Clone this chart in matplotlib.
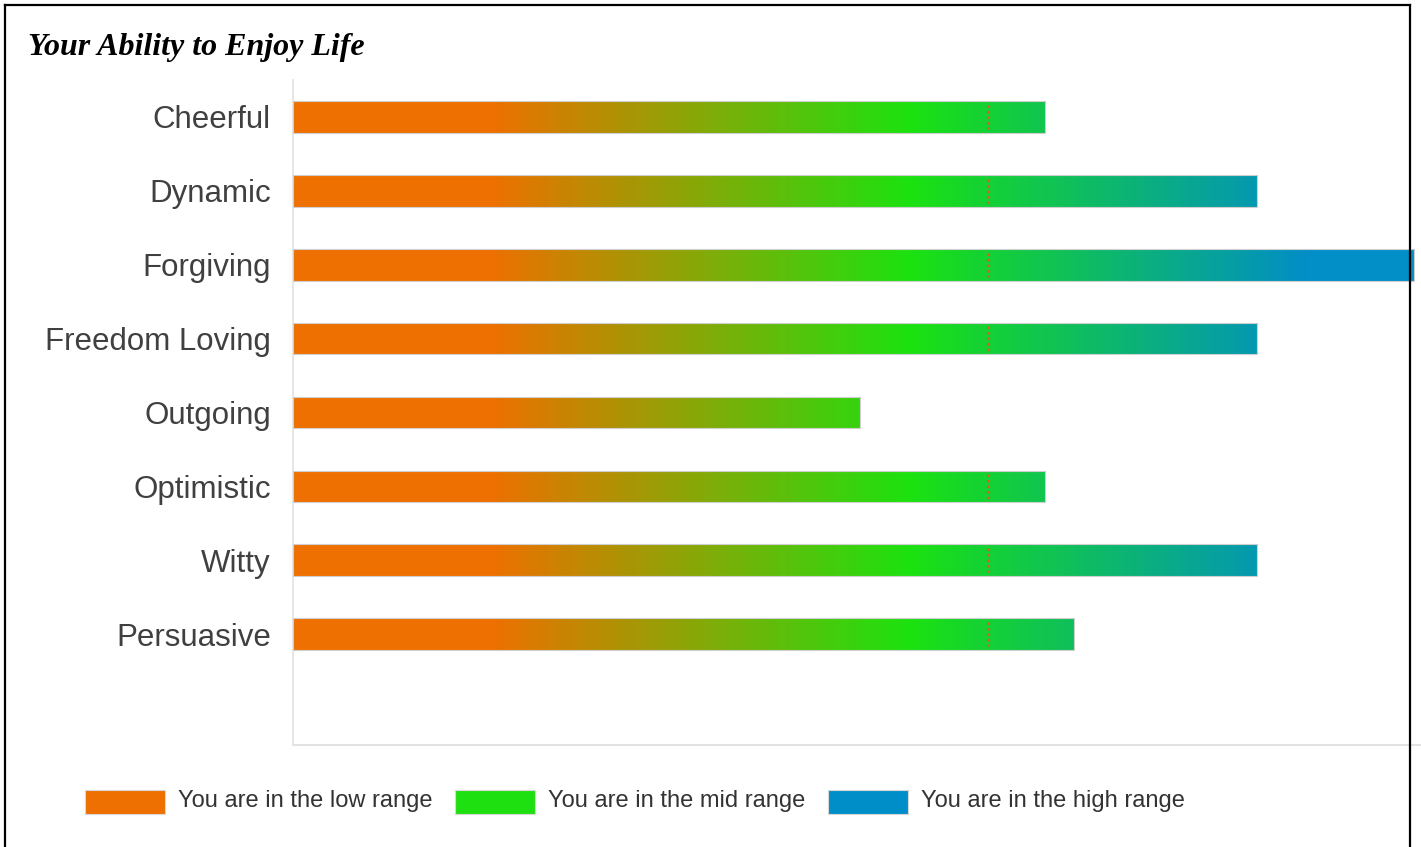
import matplotlib
matplotlib.use("Agg")
import matplotlib.pyplot as plt
import numpy as np
from matplotlib.colors import LinearSegmentedColormap
from matplotlib.patches import Rectangle
from matplotlib.lines import Line2D

# data
traits = ["Cheerful", "Dynamic", "Forgiving", "Freedom Loving",
          "Outgoing", "Optimistic", "Witty", "Persuasive"]
scores = [66.7, 85.5, 99.4, 85.5, 50.3, 66.7, 85.5, 69.2]
marker_value = 61.6
legend_labels = ["You are in the low range", "You are in the mid range",
                 "You are in the high range"]
legend_colors = ["#ee7000", "#1ee010", "#008ec8"]

# gradient used along the value axis
grad_cmap = LinearSegmentedColormap.from_list(
    "range",
    [(0.0, "#ee7000"), (0.175, "#ee7000"), (0.547, "#1ce210"),
     (0.62, "#14d038"), (0.90, "#028ec6"), (1.0, "#028ec6")])

W, H = 1421, 847
fig = plt.figure(figsize=(W / 100, H / 100), dpi=100)
fig.patch.set_facecolor("white")

ax = fig.add_axes([293 / W, 1 - 745 / H, 1 - 293 / W, (745 - 80) / H])

bar_h = 0.43
ypos = np.arange(len(traits))
bars = ax.barh(ypos, scores, height=bar_h, facecolor="none",
               edgecolor="#cfcfcf", linewidth=0.8, zorder=3)

# one gradient image spanning the full axis, clipped to each bar
xs = np.linspace(0, 1, 2000)
grad = grad_cmap(xs)[np.newaxis, :, :]
for i, (bar, val) in enumerate(zip(bars, scores)):
    im = ax.imshow(grad, extent=(0, 100, i + bar_h / 2 + 0.05, i - bar_h / 2 - 0.05),
                   aspect="auto", interpolation="nearest", zorder=2)
    im.set_clip_path(bar)
    if val > marker_value:
        ax.plot([marker_value, marker_value], [i - bar_h / 2 + 0.05, i + bar_h / 2 - 0.05],
                color="#e0600e", linestyle=(0, (0.9, 1.1)), linewidth=2.0, zorder=4)
ax.set_xlim(0, 100)
ax.set_ylim(8.5, -0.5)

ax.set_yticks(ypos)
ax.set_yticklabels(traits, fontsize=22.5, color="#404040", family="Liberation Sans")
ax.tick_params(axis="y", length=0, pad=16)
ax.set_xticks([])
for s in ["top", "right"]:
    ax.spines[s].set_visible(False)
ax.spines["left"].set_color("#e2e2e2")
ax.spines["bottom"].set_color("#e2e2e2")
ax.spines["left"].set_linewidth(1.2)
ax.spines["bottom"].set_linewidth(1.5)

# title
fig.text(28 / W, 1 - 48 / H, "Your Ability to Enjoy Life", fontsize=23,
         family="Liberation Serif", fontweight="bold", fontstyle="italic",
         va="center", ha="left")

# legend
patch_x = [85, 455, 828]
for px, lab, col in zip(patch_x, legend_labels, legend_colors):
    fig.patches.append(Rectangle((px / W, 1 - 814 / H), 80 / W, 24 / H,
                                 transform=fig.transFigure, facecolor=col,
                                 edgecolor="#d8d8d8", linewidth=0.8))
    fig.text((px + 93) / W, 1 - 801 / H, lab, fontsize=17, color="#333333",
             family="Liberation Sans", va="center", ha="left")

# frame around the whole chart
for xy in [([5, 5], [5, H]), ([5, 1410], [5, 5]), ([1410, 1410], [5, H])]:
    fig.lines.append(Line2D([v / W for v in xy[0]], [1 - v / H for v in xy[1]],
                            transform=fig.transFigure, color="black",
                            linewidth=1.6, zorder=10))

fig.savefig("out.png", dpi=100)
